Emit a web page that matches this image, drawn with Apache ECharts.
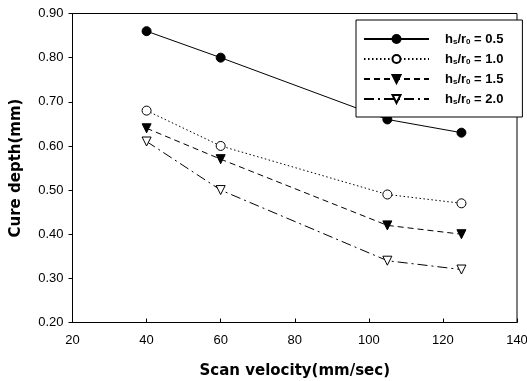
<!DOCTYPE html>
<html><head><meta charset="utf-8">
<script src="https://cdn.jsdelivr.net/npm/echarts@6/dist/echarts.min.js"></script>
<style>html,body{margin:0;padding:0;background:#fff}#c{width:527px;height:381px}</style>
</head><body><div id="c"></div>
<script>
const velocity = [40, 60, 105, 125];
const seriesNames = ['0.5', '1.0', '1.5', '2.0'];
const depth05 = [0.86, 0.80, 0.66, 0.63];
const depth10 = [0.68, 0.60, 0.49, 0.47];
const depth15 = [0.64, 0.57, 0.42, 0.40];
const depth20 = [0.61, 0.50, 0.34, 0.32];
const yTicks = [0.20, 0.30, 0.40, 0.50, 0.60, 0.70, 0.80, 0.90];
const xTicks = [20, 40, 60, 80, 100, 120, 140];

const allDepth = [depth05, depth10, depth15, depth20];
const styles = [
  {type: 'solid', symbol: 'circle', fill: '#000', rot: 0},
  {type: [1.5, 2.5], symbol: 'circle', fill: '#fff', rot: 0},
  {type: [6, 4], symbol: 'triangle', fill: '#000', rot: 180},
  {type: [10, 4, 2, 4], symbol: 'triangle', fill: '#fff', rot: 180}
];
const font = 'Liberation Sans, Arial, sans-serif';
const titleFont = 'DejaVu Sans, sans-serif';
const chart = echarts.init(document.getElementById('c'));
chart.setOption({
  animation: false,
  backgroundColor: '#fff',
  grid: {left: 72.5, right: 10, top: 13.5, bottom: 58.5, show: true, borderColor: '#000', borderWidth: 1,
         containLabel: false, outerBoundsMode: 'none'},
  xAxis: {
    type: 'value', min: xTicks[0], max: xTicks[xTicks.length-1], interval: 20,
    name: 'Scan velocity(mm/sec)', nameLocation: 'middle', nameGap: 41,
    nameTextStyle: {fontFamily: titleFont, fontWeight: 'bold', fontSize: 15, color: '#000'},
    axisLine: {show: true, lineStyle: {color: '#000', width: 1}},
    axisTick: {show: true, inside: true, length: 4, lineStyle: {color: '#000'}},
    axisLabel: {fontFamily: font, fontSize: 13, color: '#000', margin: 11},
    splitLine: {show: false}
  },
  yAxis: {
    type: 'value', min: yTicks[0], max: yTicks[yTicks.length-1], interval: 0.1,
    name: 'Cure depth(mm)', nameLocation: 'middle', nameGap: 49, nameRotate: 90,
    nameTextStyle: {fontFamily: titleFont, fontWeight: 'bold', fontSize: 15, color: '#000'},
    axisLine: {show: true, lineStyle: {color: '#000', width: 1}},
    axisTick: {show: true, inside: false, length: 4, lineStyle: {color: '#000'}},
    axisLabel: {fontFamily: font, fontSize: 13, color: '#000', margin: 9, formatter: v => v.toFixed(2)},
    splitLine: {show: false}
  },
  legend: {
    orient: 'vertical', left: 356, top: 20,
    padding: [12, 19, 11, 7], itemGap: 6, itemWidth: 65, itemHeight: 10,
    backgroundColor: '#fff', borderColor: '#000', borderWidth: 1,
    data: seriesNames.map(n => 'h/r = ' + n),
    formatter: name => 'h{sub|s}/r{sub|0}' + name.slice(3),
    textStyle: {fontFamily: font, fontWeight: 'bold', fontSize: 13, lineHeight: 14, color: '#000', padding: [0, 0, 0, 11],
      rich: {sub: {fontFamily: font, fontWeight: 'bold', fontSize: 8, lineHeight: 8, verticalAlign: 'bottom', color: '#000'}}}
  },
  series: allDepth.map((d, i) => ({
    name: 'h/r = ' + seriesNames[i],
    type: 'line',
    data: velocity.map((v, j) => [v, d[j]]),
    symbol: styles[i].symbol, symbolSize: 9, symbolRotate: styles[i].rot,
    showSymbol: true,
    lineStyle: {color: '#000', width: 1, type: styles[i].type},
    itemStyle: {color: styles[i].fill, borderColor: '#000', borderWidth: 1},
    z: 2
  }))
});
</script></body></html>
